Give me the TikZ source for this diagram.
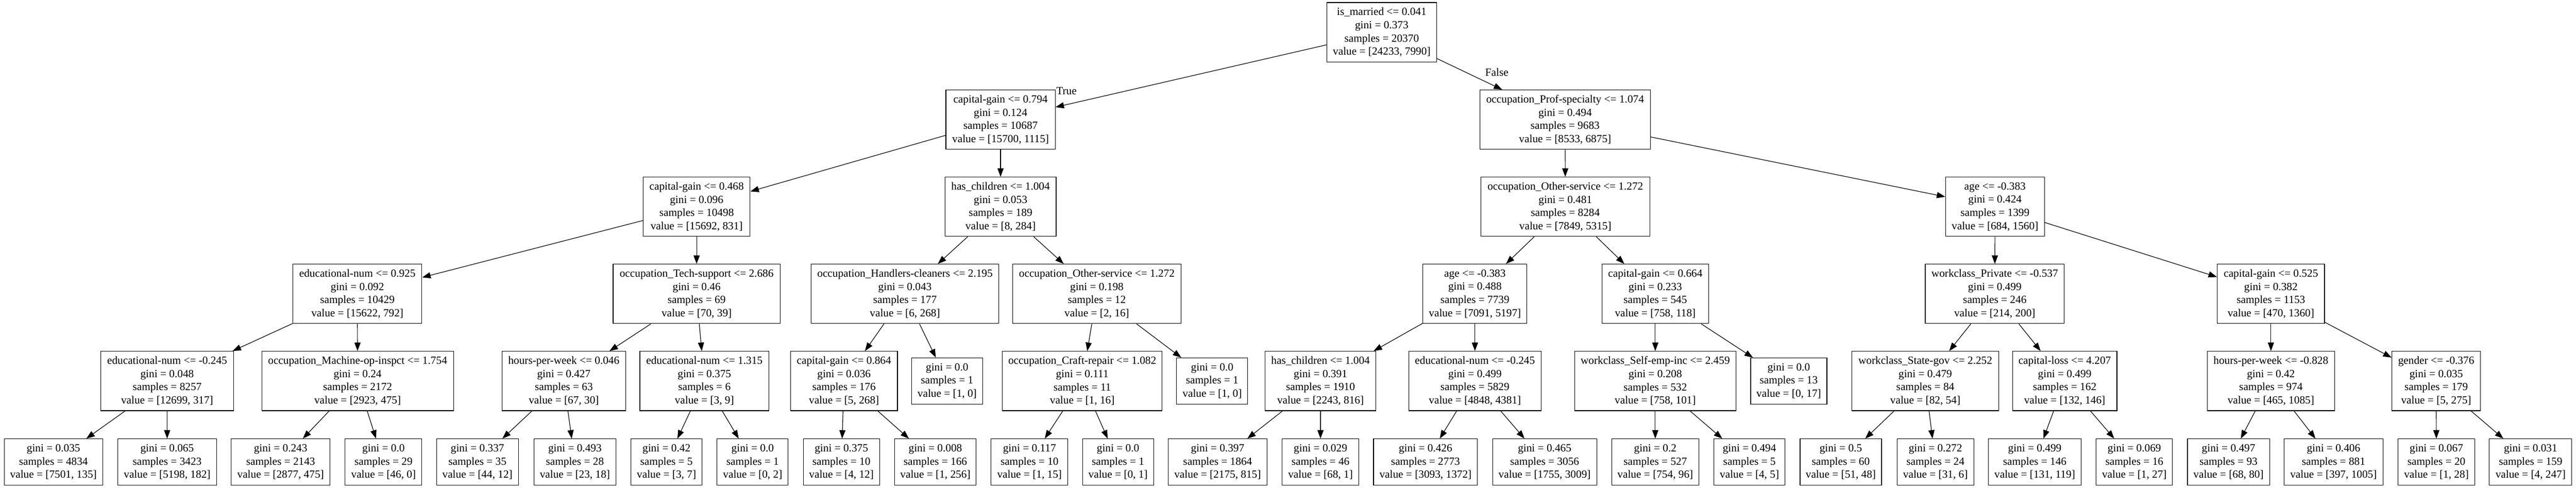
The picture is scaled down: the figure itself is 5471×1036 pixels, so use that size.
\documentclass[tikz,border=0pt]{standalone}
\usepackage{fontspec}
\setmainfont{Liberation Serif}
\usetikzlibrary{arrows.meta}
\tikzset{
  tbox/.style={draw, rectangle, line width=1.3pt, inner sep=0pt, align=center,
    minimum height=126pt, font=\fontsize{23.3}{28}\selectfont},
  leafbox/.style={tbox, minimum height=98pt},
  edge/.style={line width=1.3pt, -{Triangle[length=18pt,width=13pt]}},
  lbl/.style={inner sep=0pt, font=\fontsize{23.3}{28}\selectfont}
}
\newcommand\inode[5]{\node[tbox, minimum width=#4pt] (#1) at (#2,#3) {#5};}
\newcommand\lnode[5]{\node[leafbox, minimum width=#4pt] (#1) at (#2,#3) {#5};}
\begin{document}
\begin{tikzpicture}[x=1pt,y=-1pt]
\useasboundingbox (0,0) rectangle (5471,1036);
% level 0
\inode{root}{2934.5}{68.5}{233}{is\_married <= 0.041\\gini = 0.373\\samples = 20370\\value = [24233, 7990]}
% level 1
\inode{n1}{2125}{254}{232}{capital-gain <= 0.794\\gini = 0.124\\samples = 10687\\value = [15700, 1115]}
\inode{n2}{3324}{254}{362}{occupation\_Prof-specialty <= 1.074\\gini = 0.494\\samples = 9683\\value = [8533, 6875]}
% level 2
\inode{n3}{1479.5}{439}{227}{capital-gain <= 0.468\\gini = 0.096\\samples = 10498\\value = [15692, 831]}
\inode{n4}{2125}{439}{236}{has\_children <= 1.004\\gini = 0.053\\samples = 189\\value = [8, 284]}
\inode{n5}{3324.5}{439}{359}{occupation\_Other-service <= 1.272\\gini = 0.481\\samples = 8284\\value = [7849, 5315]}
\inode{n6}{4237}{439}{210}{age <= -0.383\\gini = 0.424\\samples = 1399\\value = [684, 1560]}
% level 3
\inode{n7}{759}{624}{274}{educational-num <= 0.925\\gini = 0.092\\samples = 10429\\value = [15622, 792]}
\inode{n8}{1479.5}{624}{355}{occupation\_Tech-support <= 2.686\\gini = 0.46\\samples = 69\\value = [70, 39]}
\inode{n9}{1922}{624}{398}{occupation\_Handlers-cleaners <= 2.195\\gini = 0.043\\samples = 177\\value = [6, 268]}
\inode{n10}{2329.5}{624}{357}{occupation\_Other-service <= 1.272\\gini = 0.198\\samples = 12\\value = [2, 16]}
\inode{n11}{3132.5}{624}{221}{age <= -0.383\\gini = 0.488\\samples = 7739\\value = [7091, 5197]}
\inode{n12}{3515.5}{624}{227}{capital-gain <= 0.664\\gini = 0.233\\samples = 545\\value = [758, 118]}
\inode{n13}{4236.5}{624}{295}{workclass\_Private <= -0.537\\gini = 0.499\\samples = 246\\value = [214, 200]}
\inode{n14}{4823}{624}{228}{capital-gain <= 0.525\\gini = 0.382\\samples = 1153\\value = [470, 1360]}
% level 4
\inode{n15}{355}{809}{282}{educational-num <= -0.245\\gini = 0.048\\samples = 8257\\value = [12699, 317]}
\inode{n16}{759.5}{809}{407}{occupation\_Machine-op-inspct <= 1.754\\gini = 0.24\\samples = 2172\\value = [2923, 475]}
\inode{n17}{1197.5}{809}{263}{hours-per-week <= 0.046\\gini = 0.427\\samples = 63\\value = [67, 30]}
\inode{n18}{1496}{809}{274}{educational-num <= 1.315\\gini = 0.375\\samples = 6\\value = [3, 9]}
\inode{n19}{1792.5}{809}{227}{capital-gain <= 0.864\\gini = 0.036\\samples = 176\\value = [5, 268]}
\lnode{n20}{2011.5}{809}{151}{gini = 0.0\\samples = 1\\value = [1, 0]}
\inode{n21}{2298.5}{809}{339}{occupation\_Craft-repair <= 1.082\\gini = 0.111\\samples = 11\\value = [1, 16]}
\lnode{n22}{2574.5}{809}{151}{gini = 0.0\\samples = 1\\value = [1, 0]}
\inode{n23}{2804.5}{809}{235}{has\_children <= 1.004\\gini = 0.391\\samples = 1910\\value = [2243, 816]}
\inode{n24}{3132.5}{809}{281}{educational-num <= -0.245\\gini = 0.499\\samples = 5829\\value = [4848, 4381]}
\inode{n25}{3515.5}{809}{343}{workclass\_Self-emp-inc <= 2.459\\gini = 0.208\\samples = 532\\value = [758, 101]}
\lnode{n26}{3799}{809}{162}{gini = 0.0\\samples = 13\\value = [0, 17]}
\inode{n27}{4089}{809}{312}{workclass\_State-gov <= 2.252\\gini = 0.479\\samples = 84\\value = [82, 54]}
\inode{n28}{4385}{809}{222}{capital-loss <= 4.207\\gini = 0.499\\samples = 162\\value = [132, 146]}
\inode{n29}{4823}{809}{270}{hours-per-week <= -0.828\\gini = 0.42\\samples = 974\\value = [465, 1085]}
\inode{n30}{5174}{809}{188}{gender <= -0.376\\gini = 0.035\\samples = 179\\value = [5, 275]}
% level 5
\lnode{l1}{113.5}{981}{209}{gini = 0.035\\samples = 4834\\value = [7501, 135]}
\lnode{l2}{355}{981}{210}{gini = 0.065\\samples = 3423\\value = [5198, 182]}
\lnode{l3}{596}{981}{210}{gini = 0.243\\samples = 2143\\value = [2877, 475]}
\lnode{l4}{814.5}{981}{163}{gini = 0.0\\samples = 29\\value = [46, 0]}
\lnode{l5}{1014}{981}{174}{gini = 0.337\\samples = 35\\value = [44, 12]}
\lnode{l6}{1221}{981}{174}{gini = 0.493\\samples = 28\\value = [23, 18]}
\lnode{l7}{1415.5}{981}{151}{gini = 0.42\\samples = 5\\value = [3, 7]}
\lnode{l8}{1598.5}{981}{151}{gini = 0.0\\samples = 1\\value = [0, 2]}
\lnode{l9}{1787}{981}{162}{gini = 0.375\\samples = 10\\value = [4, 12]}
\lnode{l10}{1986.5}{981}{173}{gini = 0.008\\samples = 166\\value = [1, 256]}
\lnode{l11}{2186.5}{981}{163}{gini = 0.117\\samples = 10\\value = [1, 15]}
\lnode{l12}{2374.5}{981}{151}{gini = 0.0\\samples = 1\\value = [0, 1]}
\lnode{l13}{2586}{981}{210}{gini = 0.397\\samples = 1864\\value = [2175, 815]}
\lnode{l14}{2804.5}{981}{163}{gini = 0.029\\samples = 46\\value = [68, 1]}
\lnode{l15}{3027.5}{981}{221}{gini = 0.426\\samples = 2773\\value = [3093, 1372]}
\lnode{l16}{3280.5}{981}{221}{gini = 0.465\\samples = 3056\\value = [1755, 3009]}
\lnode{l17}{3515.5}{981}{185}{gini = 0.2\\samples = 527\\value = [754, 96]}
\lnode{l18}{3715.5}{981}{151}{gini = 0.494\\samples = 5\\value = [4, 5]}
\lnode{l19}{3909.5}{981}{173}{gini = 0.5\\samples = 60\\value = [51, 48]}
\lnode{l20}{4110.5}{981}{163}{gini = 0.272\\samples = 24\\value = [31, 6]}
\lnode{l21}{4321.5}{981}{197}{gini = 0.499\\samples = 146\\value = [131, 119]}
\lnode{l22}{4533}{981}{162}{gini = 0.069\\samples = 16\\value = [1, 27]}
\lnode{l23}{4733}{981}{174}{gini = 0.497\\samples = 93\\value = [68, 80]}
\lnode{l24}{4956}{981}{210}{gini = 0.406\\samples = 881\\value = [397, 1005]}
\lnode{l25}{5174.5}{981}{163}{gini = 0.067\\samples = 20\\value = [1, 28]}
\lnode{l26}{5374.5}{981}{175}{gini = 0.031\\samples = 159\\value = [4, 247]}
% edge labels
\node[lbl] (truelbl) at (2265,193) {True};
\node[lbl] (falselbl) at (3179,153) {False};
% edges
\foreach \p/\c in {root/n1, root/n2, n1/n3, n1/n4, n2/n5, n2/n6,
  n3/n7, n3/n8, n4/n9, n4/n10, n5/n11, n5/n12, n6/n13, n6/n14,
  n7/n15, n7/n16, n8/n17, n8/n18, n9/n19, n9/n20, n10/n21, n10/n22,
  n11/n23, n11/n24, n12/n25, n12/n26, n13/n27, n13/n28, n14/n29, n14/n30,
  n15/l1, n15/l2, n16/l3, n16/l4, n17/l5, n17/l6, n18/l7, n18/l8,
  n19/l9, n19/l10, n21/l11, n21/l12, n23/l13, n23/l14, n24/l15, n24/l16,
  n25/l17, n25/l18, n27/l19, n27/l20, n28/l21, n28/l22, n29/l23, n29/l24,
  n30/l25, n30/l26}
  \draw[edge] (\p) -- (\c);
\end{tikzpicture}
\end{document}
